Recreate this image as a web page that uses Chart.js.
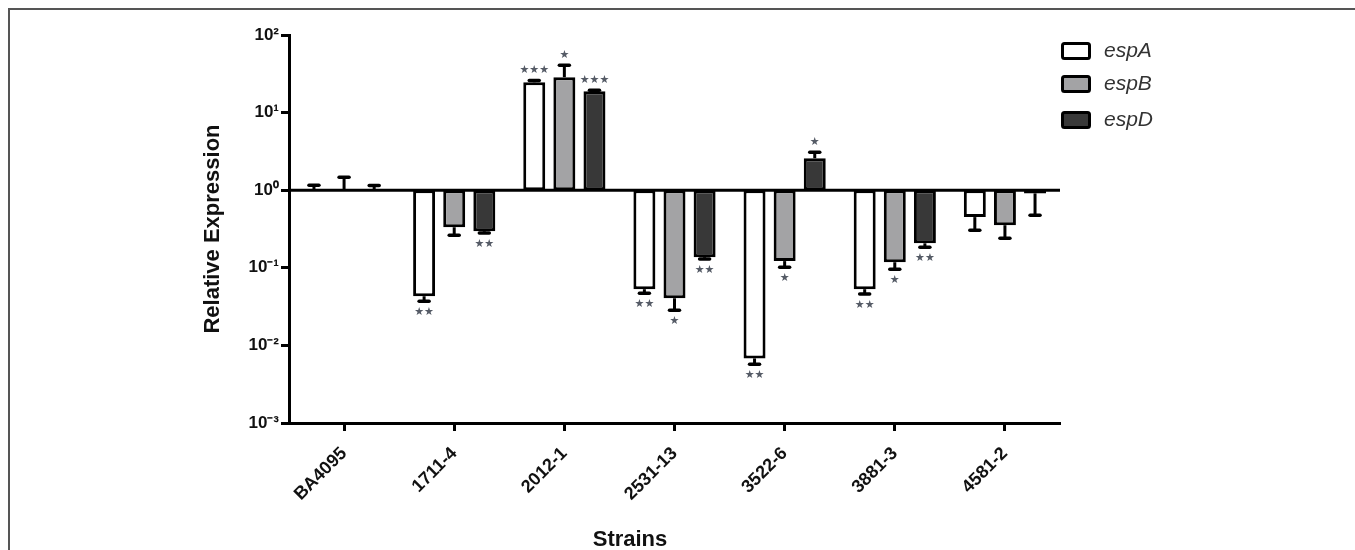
<!DOCTYPE html>
<html>
<head>
<meta charset="utf-8">
<script src="https://cdn.jsdelivr.net/npm/chart.js@4/dist/chart.umd.min.js"></script>
<style>
  body { margin: 0; background: #fff; }
  #wrap { position: relative; width: 1355px; height: 550px; }
  #frame { position: absolute; left: 8px; top: 8px; right: 0; bottom: 0;
           border-top: 2px solid #555; border-left: 2px solid #555; pointer-events: none; }
</style>
</head>
<body>
<div id="wrap">
  <canvas id="myChart" width="1355" height="550"></canvas>
  <div id="frame"></div>
</div>
<script>
const strains = ['BA4095', '1711-4', '2012-1', '2531-13', '3522-6', '3881-3', '4581-2'];

const espA = [1.0, 0.043, 24.6, 0.053, 0.0068, 0.053, 0.45];
const espB = [1.0, 0.333, 28.6, 0.0405, 0.122, 0.118, 0.354];
const espD = [1.0, 0.296, 18.9, 0.137, 2.58, 0.207, 0.91];

// end of each error bar
const espAErr = [1.16, 0.037, 25.9, 0.047, 0.0057, 0.046, 0.305];
const espBErr = [1.47, 0.263, 40.8, 0.0284, 0.102, 0.096, 0.24];
const espDErr = [1.15, 0.28, 19.4, 0.13, 3.09, 0.184, 0.476];

const espAStars = ['', '**', '***', '**', '**', '**', ''];
const espBStars = ['', '', '*', '*', '*', '*', ''];
const espDStars = ['', '**', '***', '**', '*', '**', ''];

const tickValues = [0.001, 0.01, 0.1, 1, 10, 100];
const tickLabels = ['10\u207B\u00B3', '10\u207B\u00B2', '10\u207B\u00B9', '10\u2070', '10\u00B9', '10\u00B2'];

const FONT = '"Liberation Sans", Arial, sans-serif';

function floating(arr) {
	return arr.map(v => [1, v]);
}

const errorBars = {
	id: 'errorBars',
	afterDatasetsDraw(chart) {
		const ctx = chart.ctx;
		const y = chart.scales.y;
		const area = chart.chartArea;

		// baseline at 10^0
		const y1 = y.getPixelForValue(1);
		ctx.save();
		ctx.strokeStyle = '#000';
		ctx.lineWidth = 3;
		ctx.beginPath();
		ctx.moveTo(area.left, y1);
		ctx.lineTo(area.right, y1);
		ctx.stroke();

		chart.data.datasets.forEach((ds, i) => {
			const meta = chart.getDatasetMeta(i);
			meta.data.forEach((bar, j) => {
				const v = ds.values[j];
				const yv = y.getPixelForValue(v);
				const ye = y.getPixelForValue(ds.errors[j]);
				ctx.strokeStyle = '#000';
				ctx.lineWidth = 3;
				ctx.lineCap = 'butt';
				ctx.beginPath();
				ctx.moveTo(bar.x, yv);
				ctx.lineTo(bar.x, ye);
				ctx.stroke();
				ctx.lineWidth = 3.5;
				ctx.lineCap = 'round';
				ctx.beginPath();
				ctx.moveTo(bar.x - 5, ye);
				ctx.lineTo(bar.x + 5, ye);
				ctx.stroke();

				const s = ds.stars[j];
				if (s) {
					ctx.fillStyle = '#555b66';
					ctx.font = '11px "DejaVu Sans", sans-serif';
					ctx.textAlign = 'center';
					ctx.textBaseline = 'middle';
					const up = v >= 1;
					ctx.fillText(s.replace(/\*/g, '\u2605'), bar.x, up ? ye - 10 : ye + 11);
				}
			});
		});
		ctx.restore();
	},
	afterDraw(chart) {
		const ctx = chart.ctx;
		ctx.save();
		ctx.fillStyle = '#111';
		ctx.font = 'bold 22px ' + FONT;
		ctx.textAlign = 'center';
		ctx.textBaseline = 'middle';
		ctx.fillText('Strains', 630, 540);
		ctx.translate(213, 229);
		ctx.rotate(-Math.PI / 2);
		ctx.fillText('Relative Expression', 0, 0);
		ctx.restore();

		// legend
		ctx.save();
		const rows = [51, 84, 120];
		chart.data.datasets.forEach((ds, i) => {
			const cy = rows[i];
			ctx.fillStyle = ds.backgroundColor;
			ctx.strokeStyle = '#000';
			ctx.lineWidth = 3;
			ctx.beginPath();
			ctx.roundRect(1062.5, cy - 7.5, 27, 15, 2);
			ctx.fill();
			ctx.stroke();
			ctx.fillStyle = '#333';
			ctx.font = 'italic 21px ' + FONT;
			ctx.textAlign = 'left';
			ctx.textBaseline = 'middle';
			ctx.fillText(ds.label, 1104, cy);
		});
		ctx.restore();
	}
};

new Chart(document.getElementById('myChart'), {
	type: 'bar',
	data: {
		labels: strains,
		datasets: [{
			label: 'espA',
			data: floating(espA),
			values: espA,
			errors: espAErr,
			stars: espAStars,
			backgroundColor: '#ffffff'
		},
		{
			label: 'espB',
			data: floating(espB),
			values: espB,
			errors: espBErr,
			stars: espBStars,
			backgroundColor: '#a3a3a5'
		},
		{
			label: 'espD',
			data: floating(espD),
			values: espD,
			errors: espDErr,
			stars: espDStars,
			backgroundColor: '#383838'
		}]
	},
	options: {
		responsive: false,
		animation: false,
		devicePixelRatio: 1,
		layout: { padding: { left: 8, top: 35, right: 295, bottom: 0 } },
		datasets: {
			bar: {
				borderColor: '#000',
				borderWidth: 3,
				borderSkipped: false,
				categoryPercentage: 0.82,
				barPercentage: 0.73
			}
		},
		plugins: {
			legend: { display: false },
			tooltip: { enabled: false }
		},
		scales: {
			x: {
				grid: { offset: false, drawOnChartArea: false, tickLength: 8, tickWidth: 3, tickColor: '#000' },
				border: { color: '#000', width: 3 },
				ticks: {
					minRotation: 45,
					maxRotation: 45,
					padding: 12,
					color: '#111',
					font: { family: FONT, size: 18, weight: 'bold' }
				},
				afterFit(scale) { scale.height = 127; }
			},
			y: {
				type: 'logarithmic',
				min: 0.001,
				max: 100,
				grid: { drawOnChartArea: false, tickLength: 8, tickWidth: 3, tickColor: '#000' },
				border: { color: '#000', width: 3 },
				afterBuildTicks(scale) {
					scale.ticks = tickValues.map(v => ({ value: v, major: true }));
				},
				ticks: {
					padding: 2,
					color: '#111',
					font: { family: FONT, size: 17, weight: 'bold' },
					callback(value) {
						const k = tickValues.findIndex(t => Math.abs(t - value) / t < 1e-6);
						return k >= 0 ? tickLabels[k] : '';
					}
				},
				afterFit(scale) { scale.width = 281; }
			}
		}
	},
	plugins: [errorBars]
});
</script>
</body>
</html>
